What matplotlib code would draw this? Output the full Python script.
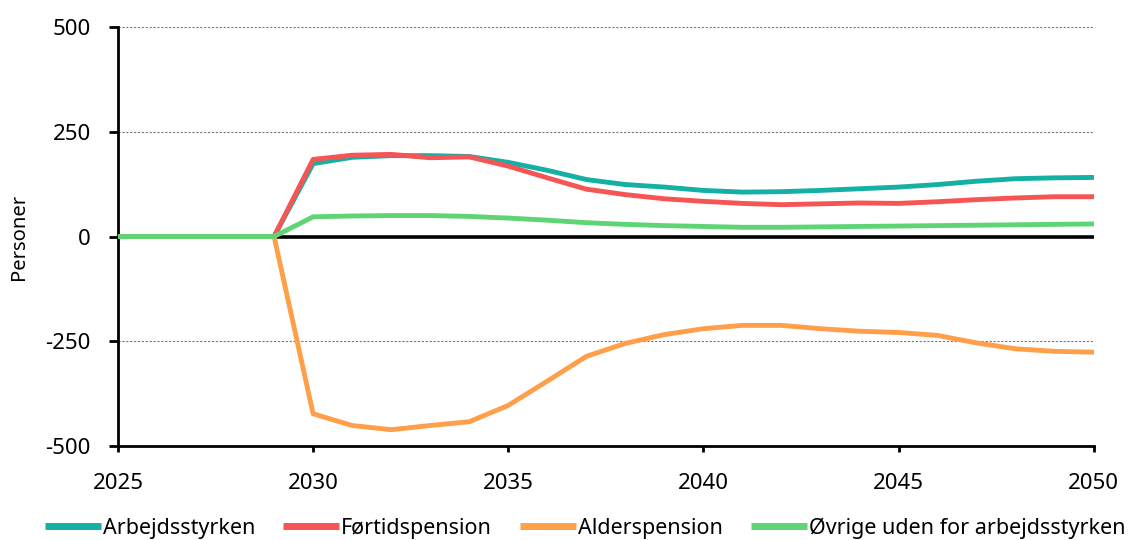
import matplotlib
matplotlib.use("Agg")
import matplotlib.pyplot as plt

years = list(range(2025, 2051))
arbejdsstyrken = [0, 0, 0, 0, 0, 174, 189, 193, 193, 191, 177, 158, 136, 124, 118, 110, 106, 107, 110, 114, 118, 124, 132, 138, 140, 141]
fortidspension = [0, 0, 0, 0, 0, 184, 194, 196, 188, 190, 168, 140, 113, 100, 90, 84, 79, 76, 78, 80, 79, 83, 88, 92, 95, 95]
alderspension = [0, 0, 0, 0, 0, -423, -451, -461, -451, -442, -403, -345, -286, -255, -234, -220, -212, -212, -220, -226, -229, -236, -254, -268, -274, -276]
ovrige = [0, 0, 0, 0, 0, 47, 49, 50, 50, 48, 44, 39, 33, 29, 26, 24, 22, 22, 23, 24, 25, 26, 27, 28, 29, 30]

labels = ["Arbejdsstyrken", "Førtidspension", "Alderspension", "Øvrige uden for arbejdsstyrken"]
colors = ["#14b0a4", "#f55555", "#ff9f4a", "#5fd475"]
yticks = [-500, -250, 0, 250, 500]
xticks = [2025, 2030, 2035, 2040, 2045, 2050]

plt.rcParams['font.family'] = ['Noto Sans', 'DejaVu Sans']

fig = plt.figure(figsize=(11.32, 5.4), dpi=100)
ax = fig.add_axes([0.1042, 0.174, 0.862, 0.776])

for yv in [-250, 250, 500]:
    ax.axhline(yv, color="#777777", lw=0.8, ls=(0, (2, 1.5)), zorder=1)
ax.axhline(0, color="black", lw=2.6, zorder=2)

series = [arbejdsstyrken, fortidspension, alderspension, ovrige]
handles = []
for s, lab, c in zip(series, labels, colors):
    h, = ax.plot(years, s, color=c, lw=3.5, label=lab, solid_capstyle="round",
                 solid_joinstyle="round", zorder=3)
    handles.append(h)

ax.set_xlim(2025, 2050)
ax.set_ylim(-500, 500)
ax.set_xticks(xticks)
ax.set_yticks(yticks)
ax.set_xticklabels([str(x) for x in xticks])
ax.set_yticklabels([str(y) for y in yticks])
ax.tick_params(axis="both", labelsize=16, width=2, color="black")
ax.tick_params(axis="y", length=6.5, pad=13)
ax.tick_params(axis="x", length=4.5, pad=15)
for side in ["top", "right"]:
    ax.spines[side].set_visible(False)
for side in ["left", "bottom"]:
    ax.spines[side].set_linewidth(2)
ax.set_ylabel("Personer", fontsize=14.5)
ax.yaxis.set_label_coords(-0.091, 0.5)

leg = fig.legend(handles=handles, labels=labels, loc="center", bbox_to_anchor=(0.517, 0.022),
                 ncol=4, frameon=False, fontsize=15.5, handlelength=2.6, handletextpad=0.1,
                 columnspacing=1.3)
for lh in leg.get_lines():
    lh.set_linewidth(5)
    lh.set_solid_capstyle("butt")

fig.savefig("out.png", dpi=100)
